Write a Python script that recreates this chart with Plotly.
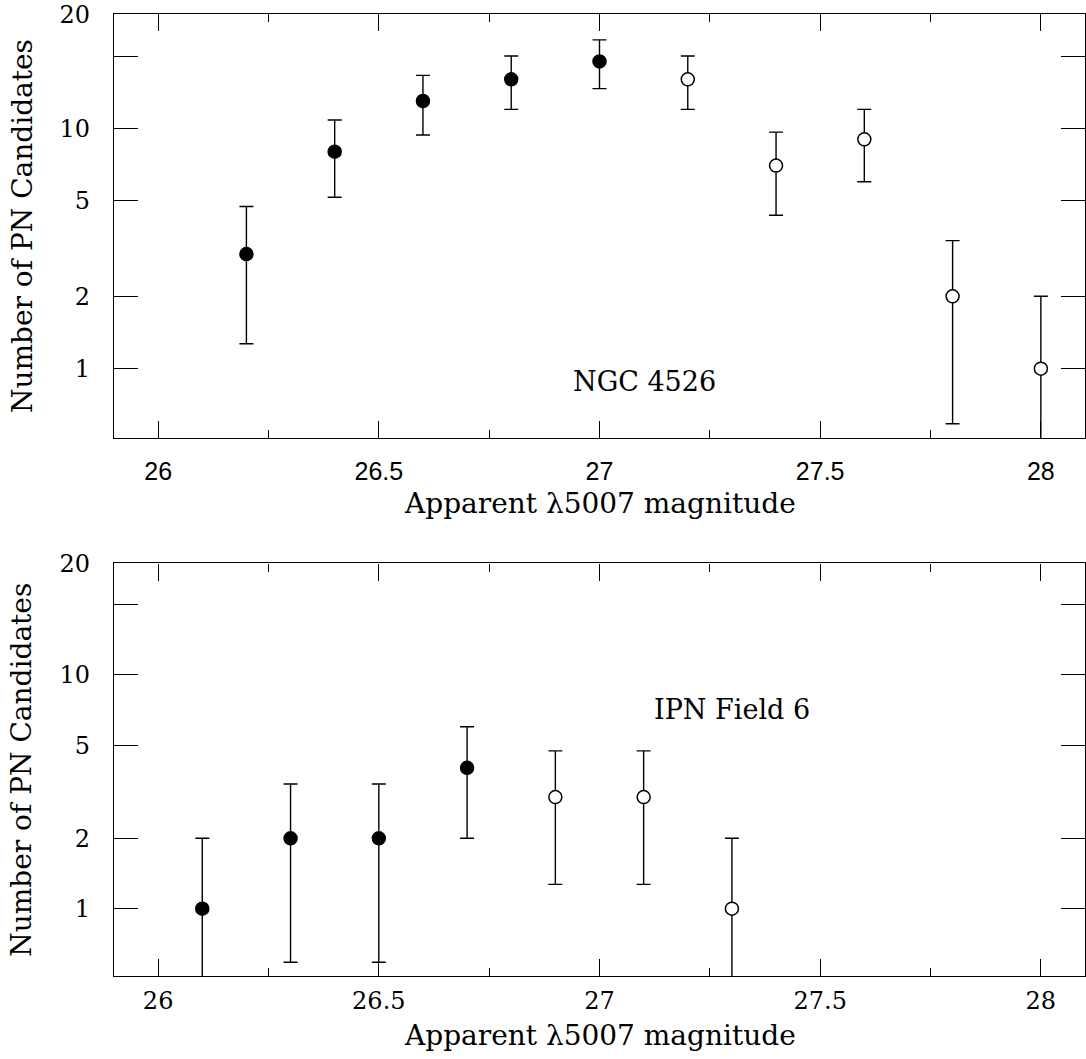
import plotly.graph_objects as go
from plotly.subplots import make_subplots

# ---- data ----
# Top panel: NGC 4526
ngc_fill_x = [26.2, 26.4, 26.6, 26.8, 27.0]
ngc_fill_y = [3, 8, 13, 16, 19]
ngc_fill_err = [1.73, 2.83, 3.61, 4.0, 4.36]
ngc_open_x = [27.2, 27.4, 27.6, 27.8, 28.0]
ngc_open_y = [16, 7, 9, 2, 1]
ngc_open_err = [4.0, 2.65, 3.0, 1.41, 1.0]

# Bottom panel: IPN Field 6
ipn_fill_x = [26.1, 26.3, 26.5, 26.7]
ipn_fill_y = [1, 2, 2, 4]
ipn_fill_err = [1.0, 1.41, 1.41, 2.0]
ipn_open_x = [26.9, 27.1, 27.3]
ipn_open_y = [3, 3, 1]
ipn_open_err = [1.73, 1.73, 1.0]

x_tickvals = [26, 26.5, 27, 27.5, 28]
x_ticktext = ["26", "26.5", "27", "27.5", "28"]
y_tickvals = [1, 2, 5, 10, 20, 29.8]
y_ticktext = ["1", "2", "5", "10", "", "20"]

x_title = "Apparent \u03bb5007 magnitude"
y_title = "Number of PN Candidates"
label_top = "NGC 4526"
label_bottom = "IPN Field 6"

SERIF = "DejaVu Serif"
SANS = "Liberation Sans"

fig = make_subplots(rows=2, cols=1, vertical_spacing=0.0)


def add_series(x, y, err, filled, row):
    fig.add_trace(
        go.Scatter(
            x=x, y=y, mode="markers",
            marker=dict(
                symbol="circle", size=13,
                color="black" if filled else "white",
                line=dict(color="black", width=1.5),
            ),
            error_y=dict(type="data", array=err, visible=True,
                         color="black", thickness=1.4, width=7),
            showlegend=False, cliponaxis=True,
        ),
        row=row, col=1,
    )


add_series(ngc_fill_x, ngc_fill_y, ngc_fill_err, True, 1)
add_series(ngc_open_x, ngc_open_y, ngc_open_err, False, 1)
add_series(ipn_fill_x, ipn_fill_y, ipn_fill_err, True, 2)
add_series(ipn_open_x, ipn_open_y, ipn_open_err, False, 2)

top_dom = [0.5594, 1.0]
bot_dom = [0.0, 0.4288]

common_x = dict(
    range=[25.9, 28.1], tickmode="array", tickvals=x_tickvals, ticktext=x_ticktext,
    ticks="inside", ticklen=17, tickwidth=1.3, tickcolor="black",
    minor=dict(dtick=0.25, tick0=26, ticks="inside", ticklen=8, tickwidth=1.3,
               tickcolor="black", showgrid=False),
    showline=True, linewidth=1.3, linecolor="black", mirror="allticks",
    showgrid=False, zeroline=False,
)
common_y = dict(
    type="log", range=[-0.288, 1.476], tickmode="array",
    tickvals=y_tickvals, ticktext=y_ticktext,
    ticks="inside", ticklen=24, tickwidth=1.3, tickcolor="black",
    showline=True, linewidth=1.3, linecolor="black", mirror="allticks",
    showgrid=False, zeroline=False,
    tickfont=dict(family=SERIF, size=24, color="black"),
    ticklabelstandoff=18,
)

fig.update_xaxes(**common_x, domain=[0, 1], row=1, col=1,
                 tickfont=dict(family=SANS, size=25, color="black"),
                 ticklabelstandoff=11)
fig.update_xaxes(**common_x, domain=[0, 1], row=2, col=1,
                 tickfont=dict(family=SERIF, size=24, color="black"),
                 ticklabelstandoff=3)
fig.update_yaxes(**common_y, domain=top_dom, row=1, col=1)
fig.update_yaxes(**common_y, domain=bot_dom, row=2, col=1)

title_font = dict(family=SERIF, size=28, color="black")
label_font = dict(family=SERIF, size=27, color="black")
ann = [
    dict(text=x_title, xref="paper", yref="paper", x=0.5, y=0.4915,
         xanchor="center", yanchor="middle", showarrow=False, font=title_font),
    dict(text=x_title, xref="paper", yref="paper", x=0.5, y=-0.0617,
         xanchor="center", yanchor="middle", showarrow=False, font=title_font),
    dict(text=y_title, xref="paper", yref="paper", x=-0.0947, y=0.7796,
         xanchor="center", yanchor="middle", textangle=-90, showarrow=False,
         font=title_font),
    dict(text=y_title, xref="paper", yref="paper", x=-0.0947, y=0.2144,
         xanchor="center", yanchor="middle", textangle=-90, showarrow=False,
         font=title_font),
    dict(text=label_top, xref="x domain", yref="y domain", x=0.546, y=0.132,
         xanchor="center", yanchor="middle", showarrow=False, font=label_font),
    dict(text=label_bottom, xref="x2 domain", yref="y2 domain", x=0.636, y=0.647,
         xanchor="center", yanchor="middle", showarrow=False, font=label_font),
]

fig.update_layout(
    width=1086, height=1059,
    margin=dict(l=114, r=1, t=14, b=83, autoexpand=False),
    paper_bgcolor="white", plot_bgcolor="white",
    annotations=ann, showlegend=False,
)

fig.write_html(
    "out.html",
    config={"displayModeBar": False},
    post_script="document.body.style.margin='0';document.body.style.overflow='hidden';",
)
